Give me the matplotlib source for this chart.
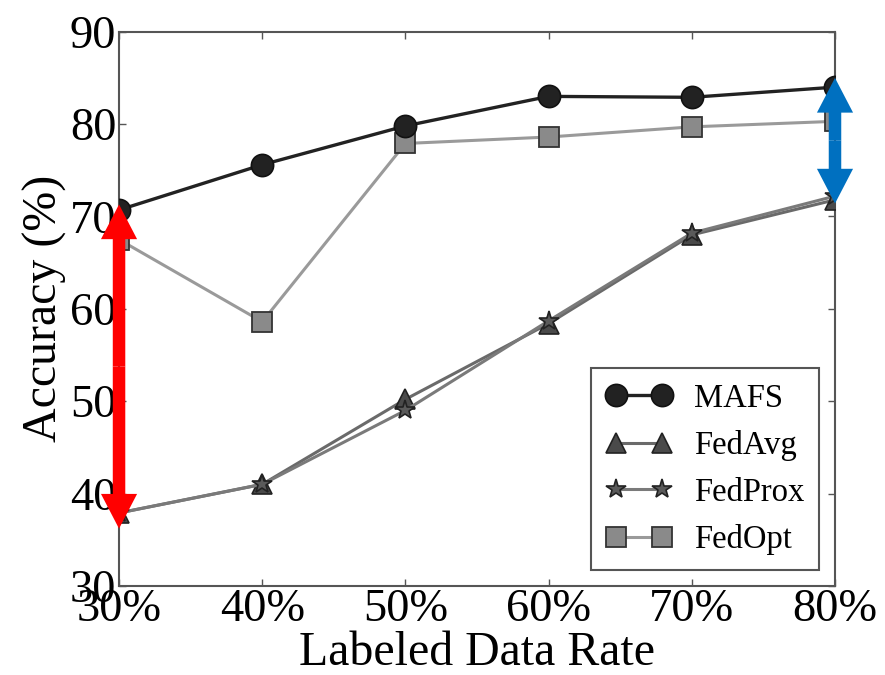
import matplotlib
matplotlib.use("Agg")
import matplotlib.pyplot as plt
from matplotlib.patches import FancyArrowPatch

plt.rcParams["font.family"] = ["Liberation Serif", "DejaVu Serif"]

rates = [30, 40, 50, 60, 70, 80]
rate_labels = ["30%", "40%", "50%", "60%", "70%", "80%"]
mafs = [70.7, 75.6, 79.8, 83.0, 82.9, 84.0]
fedavg = [37.9, 41.0, 50.2, 58.4, 68.0, 71.8]
fedprox = [37.9, 41.0, 49.0, 58.7, 68.2, 72.2]
fedopt = [67.5, 58.6, 77.9, 78.6, 79.7, 80.3]
yticks = [30, 40, 50, 60, 70, 80, 90]

# gap arrows: (x, top, bottom, colour)
gaps = [(30, 71.3, 36.2, "#ff0000"), (80, 85.0, 71.4, "#0070c0")]

fig = plt.figure(figsize=(8.85, 6.75), dpi=100)
ax = fig.add_axes([0.1345, 0.132, 0.809, 0.821])

ax.plot(rates, fedopt, color="#9a9a9a", lw=2.2, marker="s", ms=15,
        mfc="#8a8a8a", mec="#333333", mew=1.3, label="FedOpt", zorder=3)
ax.plot(rates, fedavg, color="#6a6a6a", lw=2.2, marker="^", ms=15,
        mfc="#4a4a4a", mec="#222222", mew=1.2, label="FedAvg", zorder=4)
ax.plot(rates, fedprox, color="#7a7a7a", lw=2.2, marker="*", ms=15,
        mfc="#5a5a5a", mec="#222222", mew=1.2, label="FedProx", zorder=5)
ax.plot(rates, mafs, color="#222222", lw=2.4, marker="o", ms=16,
        mfc="#222222", mec="#111111", mew=1.2, label="MAFS", zorder=6)

ax.set_xlim(30, 80)
ax.set_ylim(30, 90)
ax.set_xticks(rates)
ax.set_xticklabels(rate_labels)
ax.set_yticks(yticks)
ax.tick_params(direction="in", length=5, width=1, top=True, right=True,
               labelsize=33.5, pad=2, color="#555555")
for s in ax.spines.values():
    s.set_color("#555555")
    s.set_linewidth(1.5)

ax.set_xlabel("Labeled Data Rate", fontsize=34.5, labelpad=0)
ax.set_ylabel("Accuracy (%)", fontsize=34.5, labelpad=2)

h, l = ax.get_legend_handles_labels()
order = [3, 1, 2, 0]
leg = ax.legend([h[i] for i in order], [l[i] for i in order], loc="lower right",
                bbox_to_anchor=(0.978, 0.029), borderaxespad=0, numpoints=2,
                fontsize=23.5, fancybox=False, edgecolor="#555555", framealpha=1,
                handlelength=2.0, handletextpad=0.7, borderpad=0.45,
                labelspacing=0.5)
leg.get_frame().set_linewidth(1.5)

# double-headed arrows drawn as two filled arrows from the middle
style = "simple,head_length=25,head_width=26,tail_width=9"
for gx, top, bot, col in gaps:
    mid = (top + bot) / 2
    for end in (top, bot):
        ax.add_patch(FancyArrowPatch((gx, mid), (gx, end), arrowstyle=style,
                                     mutation_scale=1, lw=0, color=col,
                                     clip_on=False, shrinkA=0, shrinkB=0,
                                     zorder=10))

fig.savefig("out.png", dpi=100)
